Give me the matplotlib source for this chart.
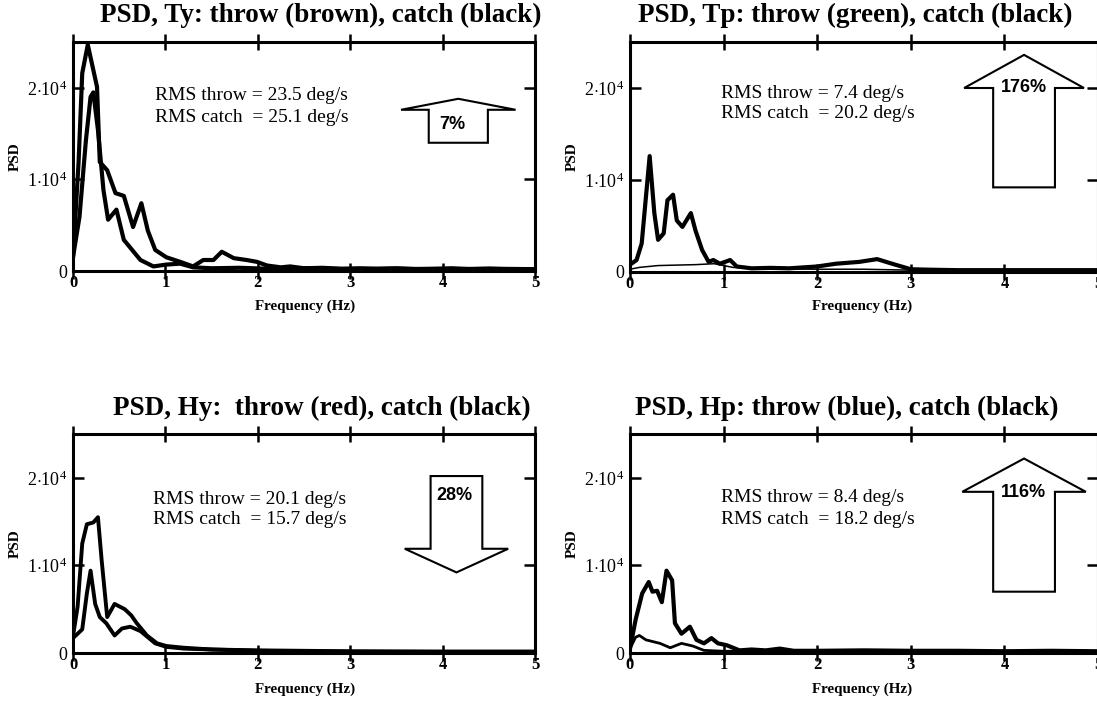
import matplotlib
matplotlib.use("Agg")
import matplotlib.pyplot as plt
from matplotlib.patches import Polygon

plt.rcParams["mathtext.fontset"] = "custom"
plt.rcParams["mathtext.rm"] = "Liberation Serif"
plt.rcParams["mathtext.it"] = "Liberation Serif:italic"
plt.rcParams["mathtext.bf"] = "Liberation Serif:bold"

SERIF = "Liberation Serif"
SANS = "Liberation Sans"

# ---------------- data: PSD of angular velocity (deg/s)^2/Hz ----------------
titles = [
    "PSD, Ty: throw (brown), catch (black)",
    "PSD, Tp: throw (green), catch (black)",
    "PSD, Hy:  throw (red), catch (black)",
    "PSD, Hp: throw (blue), catch (black)",
]
rms_throw = [23.5, 7.4, 20.1, 8.4]
rms_catch = [25.1, 20.2, 15.7, 18.2]
pct_change = ["7%", "176%", "28%", "116%"]

# Ty
ty_catch_f = [0.0, 0.06, 0.10, 0.16, 0.26, 0.29, 0.37, 0.46, 0.55, 0.65, 0.74,
              0.81, 0.89, 1.01, 1.16, 1.30, 1.41, 1.52, 1.61, 1.74, 1.88, 1.99,
              2.10, 2.25, 2.35, 2.50, 2.70, 2.90, 3.10, 3.30, 3.50, 3.70, 3.90,
              4.10, 4.30, 4.50, 4.70, 5.00]
ty_catch_p = [1500, 11800, 21600, 24700, 20100, 11900, 11000, 8500, 8200, 4800,
              7400, 4400, 2300, 1500, 1000, 500, 1200, 1200, 2100, 1400, 1200,
              1000, 600, 400, 500, 300, 350, 250, 300, 250, 300, 200, 250, 300,
              200, 250, 200, 200]
ty_throw_f = [0.0, 0.07, 0.14, 0.19, 0.22, 0.27, 0.33, 0.38, 0.47, 0.55, 0.64,
              0.73, 0.87, 1.01, 1.16, 1.30, 1.50, 1.80, 2.10, 2.50, 3.00, 3.50,
              4.00, 4.50, 5.00]
ty_throw_p = [1500, 5900, 14300, 19000, 19500, 15400, 8800, 5600, 6700, 3400,
              2300, 1200, 500, 700, 800, 400, 300, 350, 250, 300, 200, 250, 200,
              250, 200]

# Tp
tp_catch_f = [0.0, 0.07, 0.125, 0.21, 0.26, 0.30, 0.36, 0.40, 0.46, 0.50, 0.56,
              0.65, 0.70, 0.77, 0.84, 0.89, 0.96, 1.07, 1.14, 1.30, 1.50, 1.70,
              2.00, 2.20, 2.45, 2.64, 2.80, 3.00, 3.20, 3.50, 4.00, 4.50, 5.00]
tp_catch_p = [800, 1300, 3100, 12600, 6400, 3500, 4200, 7800, 8400, 5600, 4900,
              6400, 4500, 2400, 1100, 1300, 900, 1300, 600, 400, 450, 400, 600,
              900, 1100, 1400, 900, 300, 250, 200, 200, 200, 200]
tp_throw_f = [0.0, 0.10, 0.30, 0.50, 0.70, 0.90, 1.10, 1.50, 2.00, 2.50, 3.00,
              4.00, 5.00]
tp_throw_p = [300, 500, 700, 750, 800, 900, 500, 350, 300, 300, 200, 150, 150]

# Hy
hy_throw_f = [0.0, 0.05, 0.10, 0.15, 0.22, 0.27, 0.31, 0.37, 0.45, 0.56, 0.63,
              0.69, 0.80, 0.91, 1.01, 1.20, 1.50, 2.00, 2.50, 3.00, 4.00, 5.00]
hy_throw_p = [1900, 5300, 12500, 14700, 14900, 15500, 10600, 4100, 5600, 5000,
              4300, 3400, 2000, 1100, 800, 600, 400, 300, 250, 200, 150, 150]
hy_catch_f = [0.0, 0.10, 0.15, 0.19, 0.24, 0.29, 0.36, 0.45, 0.53, 0.62, 0.73,
              0.89, 1.01, 1.20, 1.50, 2.00, 2.50, 3.00, 4.00, 5.00]
hy_catch_p = [1700, 2700, 6800, 9400, 5600, 4100, 3400, 2000, 2800, 3000, 2500,
              1100, 700, 500, 400, 250, 200, 150, 150, 150]

# Hp
hp_catch_f = [0.0, 0.06, 0.13, 0.20, 0.24, 0.29, 0.34, 0.39, 0.45, 0.48, 0.55,
              0.64, 0.71, 0.79, 0.87, 0.94, 1.03, 1.17, 1.30, 1.45, 1.60, 1.75,
              2.00, 2.50, 3.00, 3.50, 4.00, 4.50, 5.00]
hp_catch_p = [500, 3800, 6800, 8100, 7000, 7100, 5800, 9400, 8300, 3400, 2200,
              3000, 1500, 1100, 1700, 1100, 900, 300, 400, 300, 500, 250, 250,
              300, 250, 250, 200, 250, 200]
hp_throw_f = [0.0, 0.06, 0.10, 0.17, 0.32, 0.43, 0.55, 0.67, 0.79, 1.00, 1.50,
              2.00, 3.00, 4.00, 5.00]
hp_throw_p = [500, 1800, 2000, 1500, 1100, 600, 1100, 800, 300, 200, 200, 150,
              150, 150, 150]

catch_f = [ty_catch_f, tp_catch_f, hy_catch_f, hp_catch_f]
catch_p = [ty_catch_p, tp_catch_p, hy_catch_p, hp_catch_p]
throw_f = [ty_throw_f, tp_throw_f, hy_throw_f, hp_throw_f]
throw_p = [ty_throw_p, tp_throw_p, hy_throw_p, hp_throw_p]

x_ticks = [0, 1, 2, 3, 4, 5]
y_ticks = [0, 10000, 20000]
y_ticklabels = ["0", r"1$\cdot$10$^4$", r"2$\cdot$10$^4$"]

# ---------------- layout ----------------
W, H = 1097, 702
fig = plt.figure(figsize=(W / 100, H / 100), dpi=100)

def box(l, r, t, b):
    return [l / W, 1 - b / H, (r - l) / W, (b - t) / H]

axes_px = [(73, 535, 42, 271), (630, 1098, 42, 272),
           (73, 535, 434, 653), (630, 1098, 434, 653)]
title_pos = [(321, 15), (855, 15), (322, 408), (847, 408)]
rms_pos = [(155, 96, 117), (721, 93, 114), (153, 500, 520), (721, 497, 519)]
xlabel_pos = [(305, 306), (862, 306), (305, 689), (862, 689)]
catch_lw = [3.0, 3.0, 2.8, 3.0]
throw_lw = [3.0, 1.1, 2.8, 2.0]

# arrow geometry: (centre x, tip y, head base y, tail y, head half width,
#                  shaft half width, label x, label y)
arrow_geom = [
    (4.17, 18800, 17600, 14000, 0.62, 0.32, 4.10, 16000),
    (4.21, 23600, 20000, 9200, 0.64, 0.33, 4.21, 20000),
    (4.15, 9200, 11900, 20200, 0.56, 0.28, 4.13, 18000),
    (4.21, 22200, 18400, 7000, 0.66, 0.33, 4.20, 18300),
]

for i in range(4):
    ax = fig.add_axes(box(*axes_px[i]))
    ax.plot(throw_f[i], throw_p[i], color="black", lw=throw_lw[i],
            solid_joinstyle="round", zorder=3)
    ax.plot(catch_f[i], catch_p[i], color="black", lw=catch_lw[i],
            solid_joinstyle="round", zorder=3)
    ax.set_xlim(0, 5)
    ax.set_ylim(0, 25000)
    for s in ax.spines.values():
        s.set_linewidth(2.2)
    ax.set_xticks(x_ticks)
    ax.set_xticklabels([str(t) for t in x_ticks], fontfamily=SERIF,
                       fontweight="bold", fontsize=12)
    ax.set_yticks(y_ticks)
    ax.set_yticklabels(y_ticklabels, fontfamily=SERIF, fontsize=13)
    ax.tick_params(axis="x", direction="inout", length=12, width=1.8, pad=-3,
                   top=True)
    ax.tick_params(axis="y", direction="in", length=8, width=1.8, pad=4,
                   right=True)
    ax.set_ylabel("PSD", fontfamily=SERIF, fontweight="bold", fontsize=11,
                  labelpad=4)

    cx, tip, base, tail, hh, sh, lx, ly = arrow_geom[i]
    pts = [(cx - sh, tail), (cx - sh, base), (cx - hh, base), (cx, tip),
           (cx + hh, base), (cx + sh, base), (cx + sh, tail)]
    ax.add_patch(Polygon(pts, closed=True, facecolor="white",
                         edgecolor="black", lw=1.5, zorder=4, clip_on=False))
    ax.text(lx, ly, pct_change[i], ha="center", va="center", fontfamily=SANS,
            fontweight="bold", fontsize=13, zorder=5)

    tx, ty = title_pos[i]
    fig.text(tx / W, 1 - ty / H, titles[i], ha="center", va="center",
             fontfamily=SERIF, fontweight="bold", fontsize=19.5)
    rx, r1, r2 = rms_pos[i]
    fig.text(rx / W, 1 - r1 / H, f"RMS throw = {rms_throw[i]:.1f} deg/s",
             ha="left", va="center", fontfamily=SERIF, fontsize=14)
    fig.text(rx / W, 1 - r2 / H, f"RMS catch  = {rms_catch[i]:.1f} deg/s",
             ha="left", va="center", fontfamily=SERIF, fontsize=14)
    fx, fy = xlabel_pos[i]
    fig.text(fx / W, 1 - fy / H, "Frequency (Hz)", ha="center", va="center",
             fontfamily=SERIF, fontweight="bold", fontsize=10.8)

fig.savefig("out.png", dpi=100)
